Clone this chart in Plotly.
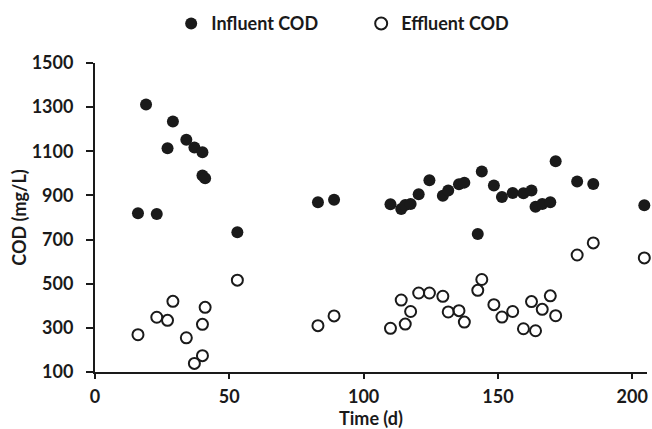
import plotly.graph_objects as go

inf_time = [16, 19, 23, 27, 29, 34, 37, 40, 40, 41, 53, 83, 89, 110, 114, 115.5, 117.5, 120.5,
            124.5, 129.5, 131.5, 135.5, 137.5, 142.5, 144, 148.5, 151.5, 155.5, 159.5, 162.5,
            164, 166.5, 169.5, 171.5, 179.5, 185.5, 204.5]
inf_cod = [819, 1312, 816, 1114, 1235, 1152, 1117, 1096, 990, 978, 733, 869, 880, 860, 839, 857,
           861, 905, 969, 899, 922, 951, 958, 725, 1008, 945, 893, 911, 910, 922, 849, 861, 869,
           1055, 963, 952, 855]

eff_time = [16, 23, 27, 29, 34, 37, 40, 40, 41, 53, 83, 89, 110, 114, 115.5, 117.5, 120.5, 124.5,
            129.5, 131.5, 135.5, 137.5, 142.5, 144, 148.5, 151.5, 155.5, 159.5, 162.5, 164, 166.5,
            169.5, 171.5, 179.5, 185.5, 204.5]
eff_cod = [269, 348, 334, 420, 255, 139, 316, 174, 393, 516, 310, 354, 298, 426, 317, 374, 458, 458,
           443, 372, 378, 326, 470, 519, 405, 349, 374, 296, 419, 287, 384, 445, 355, 630, 685, 617]

x_ticks = [0, 50, 100, 150, 200]
y_ticks = [100, 300, 500, 700, 900, 1100, 1300, 1500]

FONT = "Lato"
FS = 18
INK = "#1a1a1a"

fig = go.Figure()
fig.add_trace(go.Scatter(
    x=inf_time, y=inf_cod, mode="markers", name="Influent COD",
    marker=dict(symbol="circle", size=12, color=INK, line=dict(width=0)),
    cliponaxis=False,
))
fig.add_trace(go.Scatter(
    x=eff_time, y=eff_cod, mode="markers", name="Effluent COD",
    marker=dict(symbol="circle-open", size=11, color=INK, line=dict(width=2)),
    cliponaxis=False,
))

fig.update_layout(
    width=652, height=429,
    margin=dict(l=95, r=5, t=63, b=57, autoexpand=False),
    paper_bgcolor="white", plot_bgcolor="white",
    font=dict(family=FONT, size=FS, color=INK),
    showlegend=True,
    legend=dict(orientation="h", x=0.138, xanchor="left", y=1.127, yanchor="middle",
                font=dict(family=FONT, size=FS, color=INK, weight="bold"),
                itemsizing="constant", itemwidth=30, tracegroupgap=0,
                entrywidth=145, entrywidthmode="pixels",
                bgcolor="rgba(0,0,0,0)"),
    xaxis=dict(
        range=[0, 205.5], tickvals=x_ticks, ticktext=[str(v) for v in x_ticks],
        showgrid=False, zeroline=False, showline=True, linecolor=INK, linewidth=2,
        ticks="outside", ticklen=5, tickwidth=2, tickcolor=INK,
        ticklabelposition="outside", ticklabelstandoff=2, automargin=True,
        tickfont=dict(family=FONT, size=FS, weight="bold"),
        title=dict(text="<b>Time (d)</b>", font=dict(family=FONT, size=FS), standoff=3),
    ),
    yaxis=dict(
        range=[100, 1500], tickvals=y_ticks, ticktext=[str(v) for v in y_ticks],
        showgrid=False, zeroline=False, showline=True, linecolor=INK, linewidth=2,
        ticks="outside", ticklen=7, tickwidth=1.5, tickcolor=INK,
        ticklabelposition="outside", ticklabelstandoff=9, automargin=True,
        tickfont=dict(family=FONT, size=FS, weight="bold"),
        title=dict(text="<b>COD (mg/L)</b>", font=dict(family=FONT, size=FS), standoff=0),
    ),
)

fig.write_html("out.html", config={"displayModeBar": False},
               post_script="document.body.style.margin='0';")
